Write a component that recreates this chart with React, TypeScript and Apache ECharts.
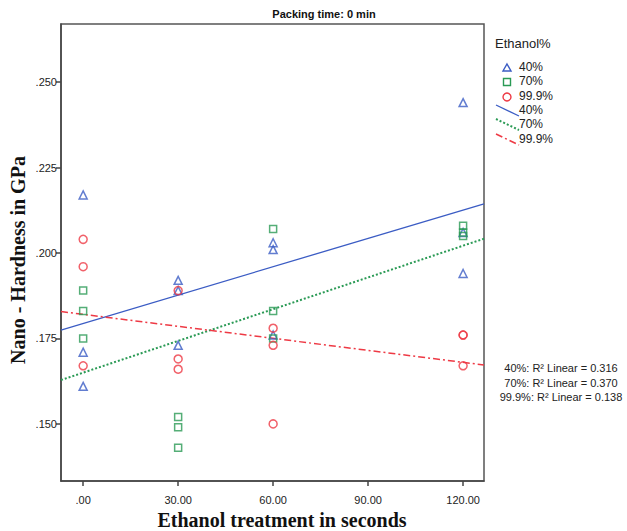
import React, { useEffect, useRef } from "react";
import * as echarts from "echarts";

const title = "Packing time: 0 min";
const xTicks = [0, 30, 60, 90, 120];
const yTicks = [0.15, 0.175, 0.2, 0.225, 0.25];
const treatmentSeconds = [0, 0, 0, 30, 30, 30, 60, 60, 60, 120, 120, 120];
const hardness40 = [0.217, 0.171, 0.161, 0.192, 0.189, 0.173, 0.203, 0.201, 0.176, 0.244, 0.206, 0.194];
const hardness70 = [0.189, 0.183, 0.175, 0.152, 0.149, 0.143, 0.207, 0.183, 0.175, 0.208, 0.206, 0.205];
const hardness999 = [0.204, 0.196, 0.167, 0.189, 0.169, 0.166, 0.178, 0.173, 0.15, 0.176, 0.176, 0.167];
const groupNames = ["40%", "70%", "99.9%"];
const r2Labels = ["40%: R\u00B2 Linear = 0.316", "70%: R\u00B2 Linear = 0.370", "99.9%: R\u00B2 Linear = 0.138"];

const X_MIN = -7;
const X_MAX = 126.6;
const Y_MIN = 0.1333;
const Y_MAX = 0.267;

const BLUE = "#3b5cc4";
const GREEN = "#2a9a55";
const RED = "#ee3a45";

function fit(xs: number[], ys: number[]) {
  const n = xs.length;
  const mx = xs.reduce((a, b) => a + b, 0) / n;
  const my = ys.reduce((a, b) => a + b, 0) / n;
  let sxy = 0;
  let sxx = 0;
  for (let i = 0; i < n; i++) {
    sxy += (xs[i] - mx) * (ys[i] - my);
    sxx += (xs[i] - mx) * (xs[i] - mx);
  }
  const b = sxy / sxx;
  const a = my - b * mx;
  return [
    [X_MIN, a + b * X_MIN],
    [X_MAX, a + b * X_MAX],
  ];
}

const pts = (ys: number[]) => treatmentSeconds.map((x, i) => [x, ys[i]]);

export default function App() {
  const ref = useRef<HTMLDivElement>(null);
  useEffect(() => {
    if (!ref.current) return;
    document.body.style.margin = "0";
    document.body.style.overflow = "hidden";
    const chart = echarts.init(ref.current, null, { renderer: "svg" });
    const sans = "Liberation Sans, Arial, sans-serif";
    const serif = "Liberation Serif, Times New Roman, serif";
    const colors = [BLUE, GREEN, RED];
    const symbols = ["triangle", "rect", "circle"];
    const sizes = [8, 7, 8];
    const dashes: any[] = ["solid", [2, 2], [7, 3, 2, 3]];
    const widths = [1.3, 2, 1.5];
    const data = [hardness40, hardness70, hardness999];

    const scatterSeries = data.map((ys, i) => ({
      type: "scatter",
      name: groupNames[i],
      data: pts(ys),
      symbol: symbols[i],
      symbolSize: sizes[i],
      itemStyle: { color: "transparent", borderColor: colors[i], borderWidth: 1.5 },
      z: 3,
    }));
    const lineSeries = data.map((ys, i) => ({
      type: "line",
      name: groupNames[i] + " fit",
      data: fit(treatmentSeconds, ys),
      showSymbol: false,
      symbol: "none",
      lineStyle: { color: colors[i], width: widths[i], type: dashes[i] },
      z: 2,
    }));

    const legendRowsY = [68, 82, 97, 111, 125, 140];
    const legendGraphics: any[] = [
      {
        type: "text",
        left: 495,
        top: 37,
        style: { text: "Ethanol%", font: `13px ${sans}`, fill: "#222" },
      },
    ];
    const markerShapes = [
      (y: number, c: string) => ({
        type: "polygon",
        shape: { points: [[507, y - 4], [511, y + 3], [503, y + 3]] },
        style: { fill: "none", stroke: c, lineWidth: 1.4 },
      }),
      (y: number, c: string) => ({
        type: "rect",
        shape: { x: 503.5, y: y - 3.5, width: 7, height: 7 },
        style: { fill: "none", stroke: c, lineWidth: 1.4 },
      }),
      (y: number, c: string) => ({
        type: "circle",
        shape: { cx: 507, cy: y, r: 4 },
        style: { fill: "none", stroke: c, lineWidth: 1.4 },
      }),
    ];
    for (let i = 0; i < 3; i++) {
      const y = legendRowsY[i];
      legendGraphics.push(markerShapes[i](y, colors[i]));
      legendGraphics.push({
        type: "text",
        left: 519,
        top: y - 7,
        style: { text: groupNames[i], font: `12px ${sans}`, fill: "#222" },
      });
    }
    for (let i = 0; i < 3; i++) {
      const y = legendRowsY[i + 3];
      legendGraphics.push({
        type: "line",
        shape: { x1: 496, y1: y - 6, x2: 519, y2: y + 5 },
        style: {
          stroke: colors[i],
          lineWidth: widths[i],
          lineDash: dashes[i] === "solid" ? null : dashes[i],
        },
      });
      legendGraphics.push({
        type: "text",
        left: 519,
        top: y - 7,
        style: { text: groupNames[i], font: `12px ${sans}`, fill: "#222" },
      });
    }
    const r2Graphics = r2Labels.map((t, i) => ({
      type: "text",
      x: 561,
      y: 368 + i * 14.5,
      style: {
        text: t,
        font: `11px ${sans}`,
        fill: "#222",
        align: "center",
        verticalAlign: "middle",
      },
    }));

    chart.setOption({
      animation: false,
      backgroundColor: "#ffffff",
      title: {
        text: title,
        left: 319,
        top: 3,
        textAlign: "center",
        textStyle: { fontFamily: sans, fontSize: 11, fontWeight: "bold", color: "#111" },
      },
      grid: {
        left: 61,
        top: 24,
        width: 423,
        height: 457,
        show: true,
        borderColor: "#555",
        borderWidth: 1.5,
        backgroundColor: "transparent",
      },
      xAxis: {
        type: "value",
        min: X_MIN,
        max: X_MAX,
        axisLine: { show: true, onZero: false, lineStyle: { color: "#444", width: 1.5 } },
        axisTick: { show: true, length: 5, customValues: xTicks, lineStyle: { color: "#444", width: 1.5 } },
        axisLabel: {
          customValues: xTicks,
          formatter: (v: number) => v.toFixed(2).replace(/^0\./, "."),
          fontFamily: sans,
          fontSize: 11,
          color: "#222",
          margin: 13,
        },
        splitLine: { show: false },
      },
      yAxis: {
        type: "value",
        min: Y_MIN,
        max: Y_MAX,
        axisLine: { show: true, onZero: false, lineStyle: { color: "#444", width: 1.5 } },
        axisTick: { show: true, length: 5, customValues: yTicks, lineStyle: { color: "#444", width: 1.5 } },
        axisLabel: {
          customValues: yTicks,
          formatter: (v: number) => v.toFixed(3).replace(/^0\./, "."),
          fontFamily: sans,
          fontSize: 11,
          color: "#222",
          margin: 4,
        },
        splitLine: { show: false },
      },
      series: [...lineSeries, ...scatterSeries],
      graphic: [
        {
          type: "text",
          x: 282,
          y: 520,
          style: {
            text: "Ethanol treatment in seconds",
            font: `bold 20px ${serif}`,
            fill: "#111",
            align: "center",
            verticalAlign: "middle",
          },
        },
        {
          type: "text",
          x: 18,
          y: 260,
          rotation: Math.PI / 2,
          style: {
            text: "Nano - Hardness in GPa",
            font: `bold 20px ${serif}`,
            fill: "#111",
            align: "center",
            verticalAlign: "middle",
          },
        },
        ...legendGraphics,
        ...r2Graphics,
      ],
    });
    return () => chart.dispose();
  }, []);
  return (
    <div
      ref={ref}
      style={{ position: "fixed", left: 0, top: 0, width: 627, height: 531 }}
    />
  );
}
